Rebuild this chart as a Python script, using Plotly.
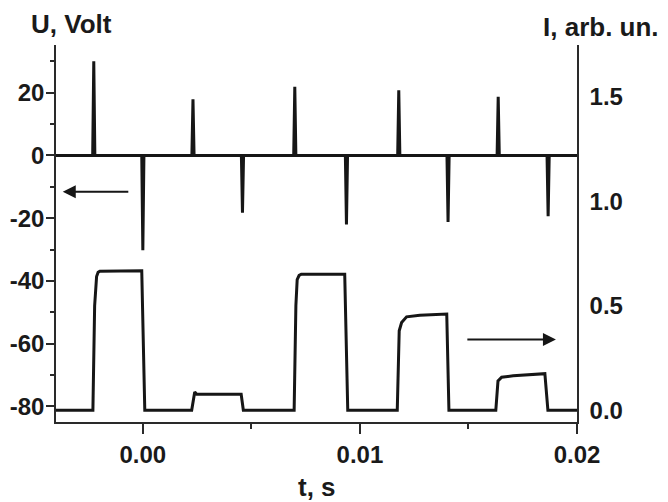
import plotly.graph_objects as go

# ---- data ----
# Voltage spikes (t in s, amplitude in V)
spike_times = [-0.00226, 0.0000, 0.00231, 0.00459, 0.00700, 0.00938, 0.01179, 0.01406, 0.01637, 0.01867]
spike_peaks = [30.0, -30.2, 17.9, -18.3, 21.9, -22.0, 20.8, -21.2, 18.7, -19.4]
t_start, t_end = -0.004, 0.02

# Current trace (t in s, I in arb. units)
t_current = [
    -0.004, -0.00230, -0.00222, -0.00213, -0.00206, -0.00198, -0.00005, 0.00002, 0.00009,
    0.00225, 0.00233, 0.00239, 0.00248, 0.00453, 0.00463,
    0.00697, 0.00705, 0.00711, 0.00720, 0.00730, 0.00930, 0.00944,
    0.01172, 0.01181, 0.01192, 0.01215, 0.01276, 0.01400, 0.01410,
    0.01626, 0.01636, 0.01653, 0.01706, 0.01852, 0.01866,
    0.02,
]
i_current = [
    0.0, 0.0, 0.50, 0.64, 0.660, 0.665, 0.667, 0.30, 0.0,
    0.0, 0.06, 0.088, 0.077, 0.077, 0.0,
    0.0, 0.50, 0.625, 0.645, 0.651, 0.651, 0.0,
    0.0, 0.38, 0.42, 0.447, 0.455, 0.460, 0.0,
    0.0, 0.140, 0.158, 0.165, 0.175, 0.0,
    0.0,
]

# tick labels
x_tickvals = [0.0, 0.01, 0.02]
x_ticktext = ["0.00", "0.01", "0.02"]
y_tickvals = [-80, -60, -40, -20, 0, 20]
y_ticktext = ["-80", "-60", "-40", "-20", "0", "20"]
y2_tickvals = [0.0, 0.5, 1.0, 1.5]
y2_ticktext = ["0.0", "0.5", "1.0", "1.5"]

# ---- build voltage polyline from spikes ----
half_w = 0.00005
t_volt, v_volt = [t_start], [0.0]
for ts, pk in zip(spike_times, spike_peaks):
    t_volt += [ts - half_w, ts, ts + half_w]
    v_volt += [0.0, pk, 0.0]
t_volt.append(t_end)
v_volt.append(0.0)

INK = "#161616"
AX = "#2a2a2a"
FONT = "Liberation Sans, Arial, Helvetica, sans-serif"

fig = go.Figure()
fig.add_trace(go.Scatter(x=t_volt, y=v_volt, mode="lines",
                         line=dict(color=INK, width=3), yaxis="y", showlegend=False,
                         hoverinfo="skip"))
fig.add_trace(go.Scatter(x=t_current, y=i_current, mode="lines",
                         line=dict(color=INK, width=3), yaxis="y2", showlegend=False,
                         hoverinfo="skip"))

tickfont = dict(family=FONT, size=24, color="#1a1a1a", weight="bold")

# page body has an 8px margin: figure is sized/offset to compensate
fig.update_layout(
    width=660, height=494,
    margin=dict(l=48, r=91, t=37, b=80, pad=0, autoexpand=False),
    paper_bgcolor="white", plot_bgcolor="white",
    xaxis=dict(range=[t_start, t_end], showgrid=False, zeroline=False, automargin=False,
               showline=True, linecolor=AX, linewidth=1.5,
               ticks="outside", ticklen=10, tickwidth=1.5, tickcolor=AX,
               tickvals=x_tickvals, ticktext=x_ticktext, tickfont=tickfont,
               minor=dict(tickvals=[0.005, 0.015], ticks="outside", ticklen=5,
                          tickwidth=1.5, tickcolor=AX)),
    yaxis=dict(range=[-85.0, 35.2], showgrid=False, zeroline=False, automargin=False,
               showline=True, linecolor=AX, linewidth=1.5,
               ticks="outside", ticklen=8, tickwidth=1.5, tickcolor=AX,
               ticklabelstandoff=-3,
               tickvals=y_tickvals, ticktext=y_ticktext, tickfont=tickfont,
               minor=dict(tickvals=[-70, -50, -30, -10, 10, 30], ticks="outside",
                          ticklen=4, tickwidth=1.5, tickcolor=AX)),
    yaxis2=dict(range=[-0.056, 1.747], overlaying="y", side="right", automargin=False,
                showgrid=False, zeroline=False,
                showline=True, linecolor=AX, linewidth=1.5,
                ticks="outside", ticklen=6, tickcolor="rgba(0,0,0,0)",
                tickvals=y2_tickvals, ticktext=y2_ticktext, tickfont=tickfont),
)

title_font = dict(family=FONT, size=26, color="#1a1a1a", weight="bold")
fig.add_annotation(text="U, Volt", xref="paper", yref="paper",
                   x=(71.5 - 56) / 521, y=(422 - 24) / 377,
                   xanchor="center", yanchor="middle", showarrow=False, font=title_font)
fig.add_annotation(text="I, arb. un.", xref="paper", yref="paper",
                   x=(600.5 - 56) / 521, y=(422 - 27) / 377,
                   xanchor="center", yanchor="middle", showarrow=False, font=title_font)
fig.add_annotation(text="t, s", xref="paper", yref="paper",
                   x=(317 - 56) / 521, y=(422 - 487) / 377,
                   xanchor="center", yanchor="middle", showarrow=False,
                   font=dict(family=FONT, size=26, color="#1a1a1a", weight="bold"))

# arrows
fig.add_annotation(x=-0.00369, y=-11.6, ax=-0.0006, ay=-11.6,
                   xref="x", yref="y", axref="x", ayref="y", text="",
                   showarrow=True, arrowhead=2, arrowsize=1.3, arrowwidth=2, arrowcolor=INK)
fig.add_annotation(x=0.01903, y=0.338, ax=0.01488, ay=0.338,
                   xref="x", yref="y2", axref="x", ayref="y2", text="",
                   showarrow=True, arrowhead=2, arrowsize=1.3, arrowwidth=2, arrowcolor=INK)

fig.write_html("out.html")
